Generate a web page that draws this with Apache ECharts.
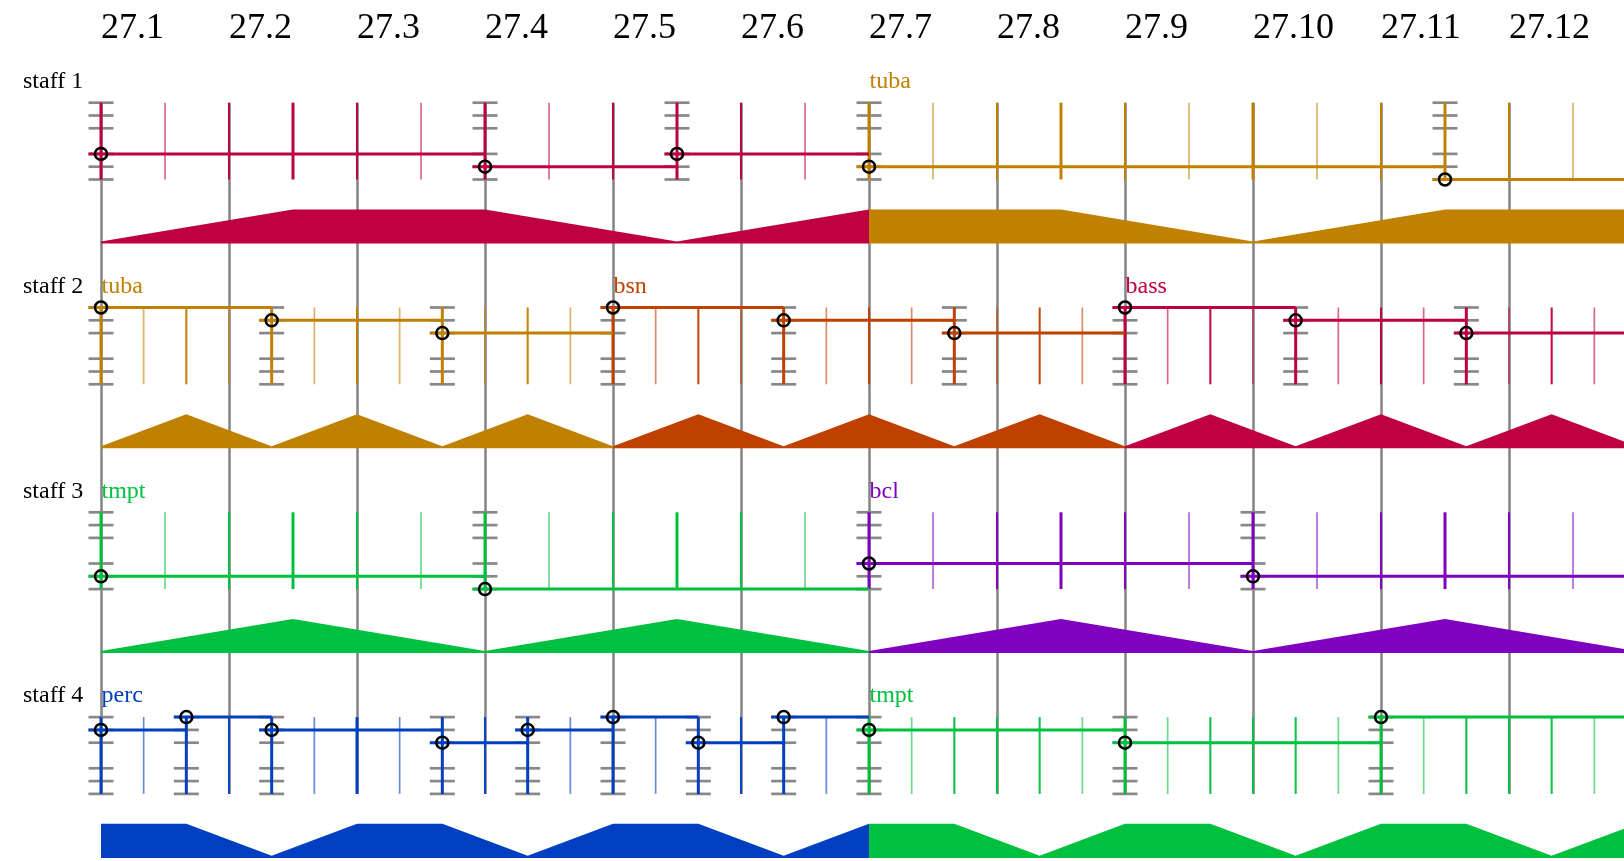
<!DOCTYPE html>
<html><head><meta charset="utf-8">
<script src="https://cdn.jsdelivr.net/npm/echarts@6/dist/echarts.min.js"></script>
<style>html,body{margin:0;padding:0;background:#fff}#chart{width:1624px;height:861px}</style>
</head><body><div id="chart"></div>
<script>
// ---------------- data ----------------
const measureLabels = ['27.1','27.2','27.3','27.4','27.5','27.6','27.7','27.8','27.9','27.10','27.11','27.12'];
const staffNames = ['staff 1','staff 2','staff 3','staff 4'];
const instrumentColors = {bass:'#BF0040', tuba:'#C08000', bsn:'#C04000', tmpt:'#00C040', bcl:'#8000C0', perc:'#0040C0'};

// [staff, instrument, startBeat, endBeat, showLabel]
const segments = [
  [0,'bass',0,6,false],[0,'tuba',6,12,true],
  [1,'tuba',0,4,true],[1,'bsn',4,8,true],[1,'bass',8,12,true],
  [2,'tmpt',0,6,true],[2,'bcl',6,12,true],
  [3,'perc',0,6,true],[3,'tmpt',6,12,true]
];

// notes: [startBeat, staff position 0 (top) .. 6 (bottom)]
const staff1Notes = [[0,4],[3,5],[4.5,4],[6,5],[10.5,6]];
const staff2Notes = [[0,0],[4/3,1],[8/3,2],[4,0],[16/3,1],[20/3,2],[8,0],[28/3,1],[32/3,2]];
const staff3Notes = [[0,5],[3,6],[6,4],[9,5]];
const staff4Notes = [[0,1],[2/3,0],[4/3,1],[8/3,2],[10/3,1],[4,0],[14/3,2],[16/3,0],[6,1],[8,2],[10,0]];

// dynamics: [beat, level 0..1]
const staff1Dynamics = [[0,0.06],[1.5,1],[3,1],[4.5,0.06],[6,1],[7.5,1],[9,0.06],[10.5,1],[12,1]];
const staff2Dynamics = [[0,0.06],[2/3,1],[4/3,0.06],[2,1],[8/3,0.06],[10/3,1],[4,0.06],[14/3,1],[16/3,0.06],[6,1],[20/3,0.06],[22/3,1],[8,0.06],[26/3,1],[28/3,0.06],[10,1],[32/3,0.06],[34/3,1],[12,0.06]];
const staff3Dynamics = [[0,0.06],[1.5,1],[3,0.06],[4.5,1],[6,0.06],[7.5,1],[9,0.06],[10.5,1],[12,0.06]];
const staff4Dynamics = [[0,1],[2/3,1],[4/3,0.06],[2,1],[8/3,1],[10/3,0.06],[4,1],[14/3,1],[16/3,0.06],[6,1],[20/3,1],[22/3,0.06],[8,1],[26/3,1],[28/3,0.06],[10,1],[32/3,1],[34/3,0.06],[12,1]];

// subdivision (beats) and accent pattern (3 strong, 2 medium, 1 weak)
const staffSubdivision = [1/2, 1/3, 1/2, 1/3];
const staffAccent = [[3,1,2,3,2,1],[3,1,2,1],[3,1,2,3,2,1],[3,1,2,2,2,1]];

// ---------------- layout constants ----------------
const staffNotes = [staff1Notes, staff2Notes, staff3Notes, staff4Notes];
const staffDynamics = [staff1Dynamics, staff2Dynamics, staff3Dynamics, staff4Dynamics];
const STAFF_SPAN = 16;
const STAFF_LINES = [0,1,2,4,5,6];
const FILL_BASE = 11.0;
const FILL_HEIGHT = 2.66;
const END_BEAT = 12;
const TICK_HALF = 12.5;
const GREY = '#888888';
const FONT = '"Liberation Serif", "Times New Roman", serif';
const accentStyle = {3:{lw:3, op:1}, 2:{lw:2.1, op:0.95}, 1:{lw:1.7, op:0.6}};

function segmentAt(staff, beat){
  return segments.find(s => s[0]===staff && beat >= s[2]-1e-6 && beat < s[3]-1e-6);
}

// verticals
const verticals = [];
segments.forEach(([staff, inst, start, end]) => {
  const sub = staffSubdivision[staff], pat = staffAccent[staff];
  const n = Math.round((end - start) / sub);
  for (let k = 0; k < n; k++) {
    const beat = start + k * sub;
    const idx = Math.round(beat / sub);
    let w = pat[idx % pat.length];
    if (staffNotes[staff].some(nt => Math.abs(nt[0] - beat) < 1e-6)) w = 3;
    verticals.push({staff, beat, color: instrumentColors[inst], w});
  }
});

// note lines
const noteLines = [];
staffNotes.forEach((notes, staff) => notes.forEach((n, i) => {
  const end = i + 1 < notes.length ? notes[i+1][0] : END_BEAT;
  const seg = segmentAt(staff, n[0]);
  noteLines.push({staff, beat: n[0], end, pos: n[1], color: instrumentColors[seg[1]]});
}));

// fills
const fills = segments.map(([staff, inst, start, end]) => ({
  staff, color: instrumentColors[inst],
  pts: staffDynamics[staff].filter(d => d[0] >= start - 1e-6 && d[0] <= end + 1e-6)
}));

// texts
const texts = [];
staffNames.forEach((name, staff) => texts.push({staff, beat: 0, text: name, color: '#000', staffLabel: true}));
segments.forEach(([staff, inst, start, end, show]) => {
  if (show) texts.push({staff, beat: start, text: inst, color: instrumentColors[inst], staffLabel: false});
});

// ---------------- chart ----------------
const chart = echarts.init(document.getElementById('chart'), null, {renderer: 'canvas'});

const option = {
  animation: false,
  backgroundColor: '#ffffff',
  grid: {left: 101, top: 102.7, width: 1536, height: 691.2, containLabel: false, outerBoundsMode: 'none'},
  xAxis: {
    type: 'value', min: 0, max: END_BEAT, interval: 1, position: 'top',
    axisLine: {show: false}, axisTick: {show: false},
    axisLabel: {
      formatter: v => measureLabels[Math.round(v)] || '',
      align: 'left', verticalAlign: 'middle', margin: 74,
      fontSize: 36, fontFamily: FONT, color: '#000'
    },
    splitLine: {show: true, lineStyle: {color: GREY, width: 2.6}}
  },
  yAxis: {type: 'value', inverse: true, min: 0, max: 3*STAFF_SPAN + 6, show: false, splitLine: {show: false}},
  series: [
    { // dynamics fills
      type: 'custom', clip: false, z: 3,
      data: fills.map(f => [f.pts[0][0], f.staff*STAFF_SPAN + FILL_BASE]),
      renderItem: (params, api) => {
        const f = fills[params.dataIndex];
        const base = f.staff*STAFF_SPAN + FILL_BASE;
        const top = f.pts.map(d => api.coord([d[0], base - d[1]*FILL_HEIGHT]));
        const bottom = f.pts.slice().reverse().map(d => api.coord([d[0], base]));
        return {type: 'polygon', shape: {points: top.concat(bottom)}, style: {fill: f.color, stroke: null}};
      }
    },
    { // grey tick stacks at note starts
      type: 'custom', clip: false, z: 4,
      data: noteLines.map(n => [n.beat, n.staff*STAFF_SPAN]),
      renderItem: (params, api) => {
        const n = noteLines[params.dataIndex];
        const children = STAFF_LINES.map(p => {
          const c = api.coord([n.beat, n.staff*STAFF_SPAN + p]);
          return {type: 'line', shape: {x1: c[0]-TICK_HALF, y1: c[1], x2: c[0]+TICK_HALF, y2: c[1]},
                  style: {stroke: GREY, lineWidth: 2.7}};
        });
        return {type: 'group', children};
      }
    },
    { // subdivision verticals
      type: 'custom', clip: false, z: 5,
      data: verticals.map(v => [v.beat, v.staff*STAFF_SPAN]),
      renderItem: (params, api) => {
        const v = verticals[params.dataIndex];
        const a = api.coord([v.beat, v.staff*STAFF_SPAN]);
        const b = api.coord([v.beat, v.staff*STAFF_SPAN + 6]);
        const s = accentStyle[v.w];
        return {type: 'line', shape: {x1: a[0], y1: a[1], x2: b[0], y2: b[1]},
                style: {stroke: v.color, lineWidth: s.lw, opacity: s.op}};
      }
    },
    { // note lines
      type: 'custom', clip: false, z: 6,
      data: noteLines.map(n => [n.beat, n.staff*STAFF_SPAN + n.pos]),
      renderItem: (params, api) => {
        const n = noteLines[params.dataIndex];
        const a = api.coord([n.beat, n.staff*STAFF_SPAN + n.pos]);
        const b = api.coord([n.end, n.staff*STAFF_SPAN + n.pos]);
        return {type: 'line', shape: {x1: a[0]-TICK_HALF, y1: a[1], x2: b[0], y2: b[1]},
                style: {stroke: n.color, lineWidth: 3}};
      }
    },
    { // note circles
      type: 'custom', clip: false, z: 7,
      data: noteLines.map(n => [n.beat, n.staff*STAFF_SPAN + n.pos]),
      renderItem: (params, api) => {
        const c = api.coord([api.value(0), api.value(1)]);
        return {type: 'circle', shape: {cx: c[0], cy: c[1], r: 6},
                style: {fill: 'rgba(0,0,0,0)', stroke: '#000', lineWidth: 2.5}};
      }
    },
    { // texts
      type: 'custom', clip: false, z: 8,
      data: texts.map(t => [t.beat, t.staff*STAFF_SPAN]),
      renderItem: (params, api) => {
        const t = texts[params.dataIndex];
        const c = api.coord([t.beat, t.staff*STAFF_SPAN]);
        return {type: 'text', x: t.staffLabel ? c[0]-78 : c[0]+0.5, y: c[1]-21,
                style: {text: t.text, fill: t.color, fontSize: 24, fontFamily: FONT,
                        align: 'left', verticalAlign: 'middle'}};
      }
    }
  ]
};
chart.setOption(option);
</script></body></html>
